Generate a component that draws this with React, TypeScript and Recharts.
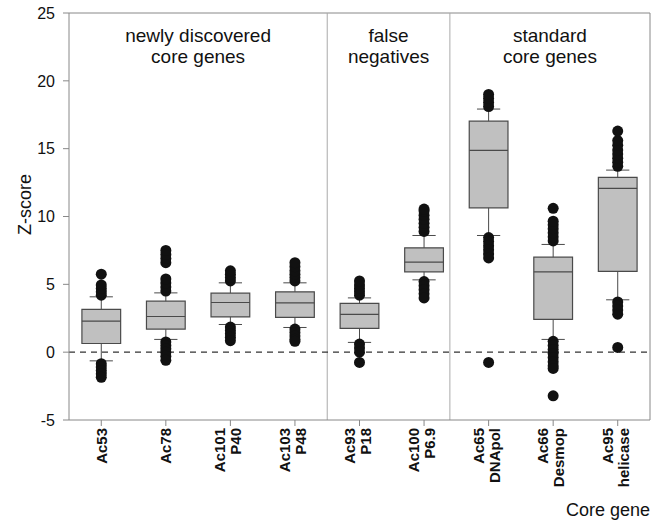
import { ComposedChart, XAxis, YAxis, Scatter, ReferenceLine, ReferenceArea } from 'recharts';

const genes = ['Ac53', 'Ac78', 'Ac101', 'Ac103', 'Ac93', 'Ac100', 'Ac65', 'Ac66', 'Ac95'];
const products = ['', '', 'P40', 'P48', 'P18', 'P6.9', 'DNApol', 'Desmop', 'helicase'];

const whiskerLow = [-0.64, 0.94, 2.04, 1.82, 0.72, 5.33, 8.6, 0.94, 3.86];
const q1 = [0.64, 1.7, 2.6, 2.56, 1.75, 5.92, 10.64, 2.41, 5.95];
const median = [2.29, 2.63, 3.66, 3.64, 2.78, 6.64, 14.87, 5.92, 12.07];
const q3 = [3.15, 3.76, 4.35, 4.45, 3.59, 7.69, 17.03, 7.0, 12.88];
const whiskerHigh = [4.08, 4.37, 5.11, 5.11, 4.0, 8.6, 17.92, 7.94, 13.42];

const outliers = [
  [4.2, 4.45, 4.7, 4.95, 5.75, -0.85, -1.1, -1.35, -1.6, -1.85],
  [4.5, 4.8, 5.1, 5.4, 6.6, 6.9, 7.2, 7.5, 0.75, 0.5, 0.25, 0.0, -0.3, -0.6],
  [5.25, 5.5, 5.75, 6.0, 1.85, 1.6, 1.35, 1.1, 0.85],
  [5.25, 5.5, 5.75, 6.0, 6.3, 6.6, 1.7, 1.45, 1.2, 0.95, 0.8],
  [4.2, 4.45, 4.7, 4.95, 5.25, 0.6, 0.3, 0.0, -0.76],
  [8.9, 9.2, 9.5, 9.8, 10.1, 10.4, 10.55, 5.2, 4.9, 4.6, 4.3, 4.0],
  [18.1, 18.4, 18.7, 19.0, 8.45, 8.15, 7.85, 7.55, 7.25, 6.95, -0.76],
  [8.2, 8.5, 8.8, 9.1, 9.4, 9.65, 10.6, 0.8, 0.5, 0.2, -0.1, -0.4, -0.7, -1.0, -1.2, -3.22],
  [13.7, 14.0, 14.3, 14.6, 14.9, 15.25, 15.6, 16.3, 3.7, 3.4, 3.1, 2.8, 0.35],
];

const groupTitles = [
  ['newly discovered', 'core genes'],
  ['false', 'negatives'],
  ['standard', 'core genes'],
];
const groupBounds = [0.5, 4.5, 6.4, 9.5];

const yTicks = [-5, 0, 5, 10, 15, 20, 25];

const FONT = '"Liberation Sans", Arial, sans-serif';
const BOX_HALF = 0.3;
const CAP_HALF = 0.18;
const LINE = '#4a4a4a';

const points = outliers.flatMap((vals, i) => vals.map(v => ({ x: i + 1, y: v })));

function GeneTick({ x, y, payload }: any) {
  const i = payload.value - 1;
  const two = products[i] !== '';
  return (
    <text
      transform={`translate(${x},${y}) rotate(-90)`}
      textAnchor="end"
      fontFamily={FONT}
      fontWeight="bold"
      fontSize={15}
      fill="#111"
    >
      {two ? (
        <>
          <tspan x={0} y={-5}>{genes[i]}</tspan>
          <tspan x={0} y={11}>{products[i]}</tspan>
        </>
      ) : (
        <tspan x={0} y={5.5}>{genes[i]}</tspan>
      )}
    </text>
  );
}

function titleLabel(lines: string[]) {
  return (props: any) => {
    const vb = props.viewBox;
    const cx = vb.x + vb.width / 2;
    return (
      <text textAnchor="middle" fontFamily={FONT} fontSize={19} fill="#111">
        <tspan x={cx} y={vb.y + 29}>{lines[0]}</tspan>
        <tspan x={cx} y={vb.y + 50}>{lines[1]}</tspan>
      </text>
    );
  };
}

export default function App() {
  return (
    <div style={{ position: 'absolute', left: 0, top: 0, background: '#fff' }}>
      <ComposedChart width={652} height={522} margin={{ top: 13, right: 2, bottom: 0, left: 0 }}>
        <XAxis
          type="number"
          dataKey="x"
          domain={[0.5, 9.5]}
          ticks={genes.map((_, i) => i + 1)}
          interval={0}
          height={102}
          tickSize={6}
          tickMargin={2}
          tick={<GeneTick />}
          axisLine={{ stroke: '#888' }}
          tickLine={{ stroke: '#888' }}
          label={(p: any) => (
            <text
              x={p.viewBox.x + p.viewBox.width}
              y={p.viewBox.y + 96}
              textAnchor="end"
              fontFamily={FONT}
              fontSize={18}
              fill="#111"
            >
              Core gene
            </text>
          )}
        />
        <YAxis
          type="number"
          dataKey="y"
          domain={[-5, 25]}
          ticks={yTicks}
          width={69}
          tickSize={6}
          tickMargin={8}
          tick={{ fill: '#111', fontSize: 16, fontFamily: FONT }}
          axisLine={{ stroke: '#888' }}
          tickLine={{ stroke: '#888' }}
          label={(p: any) => (
            <text
              transform={`translate(${p.viewBox.x + 31},${p.viewBox.y + p.viewBox.height / 2 - 12}) rotate(-90)`}
              textAnchor="middle"
              fontFamily={FONT}
              fontSize={18}
              fill="#111"
            >
              Z-score
            </text>
          )}
        />

        <ReferenceLine y={25} stroke="#888" />
        <ReferenceLine x={9.5} stroke="#888" />
        {groupBounds.slice(1, 3).map(b => (
          <ReferenceLine key={'sep' + b} x={b} stroke="#aaa" />
        ))}
        {groupTitles.map((lines, g) => (
          <ReferenceArea
            key={'t' + g}
            x1={groupBounds[g]}
            x2={groupBounds[g + 1]}
            y1={-5}
            y2={25}
            fill="none"
            fillOpacity={0}
            stroke="none"
            label={titleLabel(lines)}
          />
        ))}
        <ReferenceLine y={0} stroke="#333" strokeWidth={1.2} strokeDasharray="6 5" />

        {genes.map((_, i) => {
          const c = i + 1;
          return [
            <ReferenceLine key={'wl' + i} segment={[{ x: c, y: whiskerLow[i] }, { x: c, y: q1[i] }]} stroke={LINE} />,
            <ReferenceLine key={'wh' + i} segment={[{ x: c, y: q3[i] }, { x: c, y: whiskerHigh[i] }]} stroke={LINE} />,
            <ReferenceLine key={'cl' + i} segment={[{ x: c - CAP_HALF, y: whiskerLow[i] }, { x: c + CAP_HALF, y: whiskerLow[i] }]} stroke={LINE} />,
            <ReferenceLine key={'ch' + i} segment={[{ x: c - CAP_HALF, y: whiskerHigh[i] }, { x: c + CAP_HALF, y: whiskerHigh[i] }]} stroke={LINE} />,
            <ReferenceArea
              key={'b' + i}
              x1={c - BOX_HALF}
              x2={c + BOX_HALF}
              y1={q1[i]}
              y2={q3[i]}
              fill="#c0c0c0"
              fillOpacity={1}
              stroke={LINE}
              strokeWidth={1.2}
            />,
            <ReferenceLine key={'m' + i} segment={[{ x: c - BOX_HALF, y: median[i] }, { x: c + BOX_HALF, y: median[i] }]} stroke={LINE} strokeWidth={1.2} />,
          ];
        })}

        <Scatter
          data={points}
          isAnimationActive={false}
          shape={(p: any) => <circle cx={p.cx} cy={p.cy} r={5.5} fill="#111" />}
        />
      </ComposedChart>
    </div>
  );
}
